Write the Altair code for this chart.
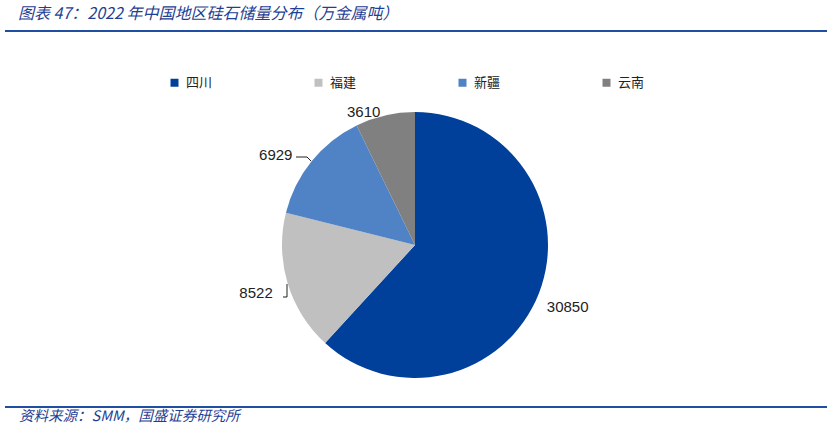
import math
import altair as alt
import pandas as pd

# Silica reserves by region, 2022 (10k tonnes metal content)
regions = ["四川", "福建", "新疆", "云南"]
reserves = [30850, 8522, 6929, 3610]
colors = ["#00409A", "#C0C0C0", "#5083C6", "#808080"]

title_text = "图表 47：2022 年中国地区硅石储量分布（万金属吨）"
source_text = "资料来源：SMM，国盛证券研究所"

CJK = "Noto Sans CJK SC"
NAVY = "#1F3F94"
RULE = "#1F4EA3"

W, H = 832, 441
CX, CY, R = 415, 245, 133

# label placement: radius in px and angular nudge in degrees
label_style = {"四川": (165, 1), "福建": (166, 0), "新疆": (166, -6), "云南": (143, -8)}

df = pd.DataFrame({"region": regions, "value": reserves})
df["order"] = range(len(regions))
df["lr"] = [label_style[r][0] for r in regions]
df["nudge"] = [label_style[r][1] for r in regions]
total = sum(reserves)

color_scale = alt.Scale(domain=regions, range=colors)

base = alt.Chart(df)

pie = base.mark_arc(outerRadius=R).encode(
    x=alt.value(CX),
    y=alt.value(CY),
    theta=alt.Theta("value:Q", stack=True),
    order=alt.Order("order:Q"),
    color=alt.Color(
        "region:N",
        scale=color_scale,
        sort=regions,
        legend=alt.Legend(
            title=None,
            orient="none",
            legendX=168,
            legendY=76,
            direction="horizontal",
            symbolType="square",
            symbolSize=64,
            symbolStrokeWidth=0,
            labelFont=CJK,
            labelFontSize=13,
            labelColor="#222222",
            labelOffset=5,
            columnPadding=99,
        ),
    ),
)

labels = (
    base.transform_window(cum="sum(value)", sort=[alt.SortField("order")])
    .transform_calculate(mid=f"(datum.cum - datum.value / 2) / {total} * 360 + datum.nudge")
    .mark_text(font="Liberation Sans", fontSize=15, color="#222222")
    .encode(
        x=alt.value(CX),
        y=alt.value(CY),
        theta=alt.Theta("mid:Q", scale=alt.Scale(domain=[0, 360], range=[0, 2 * math.pi]), stack=None),
        radius=alt.Radius("lr:Q", scale=None),
        text=alt.Text("value:Q", format="d"),
    )
)

# short leader lines for the two left-hand labels
leaders = pd.DataFrame({
    "x": [283, 287, 287, 296, 307, 311],
    "y": [297, 297, 284, 157, 157, 161],
    "g": ["a", "a", "a", "b", "b", "b"],
    "i": [0, 1, 2, 0, 1, 2],
})
leader = alt.Chart(leaders).mark_line(color="#222222", strokeWidth=1).encode(
    x=alt.X("x:Q", scale=None), y=alt.Y("y:Q", scale=None), detail="g:N", order="i:Q"
)

rules = alt.Chart(pd.DataFrame({"y": [31, 407]})).mark_rule(color=RULE, strokeWidth=2.2).encode(
    x=alt.value(5), x2=alt.value(827), y=alt.Y("y:Q", scale=None)
)

title = alt.Chart(pd.DataFrame({"t": [title_text]})).mark_text(
    font=CJK, fontSize=16, fontStyle="italic", color=NAVY, align="left", baseline="middle"
).encode(x=alt.value(18), y=alt.value(14), text="t:N")

source = alt.Chart(pd.DataFrame({"t": [source_text]})).mark_text(
    font=CJK, fontSize=14.5, fontStyle="italic", color=NAVY, align="left", baseline="middle"
).encode(x=alt.value(19), y=alt.value(417), text="t:N")

chart = (
    alt.layer(pie, labels, leader, rules, title, source)
    .resolve_scale(theta="independent", radius="independent", x="independent", y="independent")
    .properties(width=W, height=H, padding=0, autosize=alt.AutoSizeParams(type="none"))
    .configure_view(stroke=None)
)

chart.save("out.html", embed_options={"renderer": "svg", "actions": False})
